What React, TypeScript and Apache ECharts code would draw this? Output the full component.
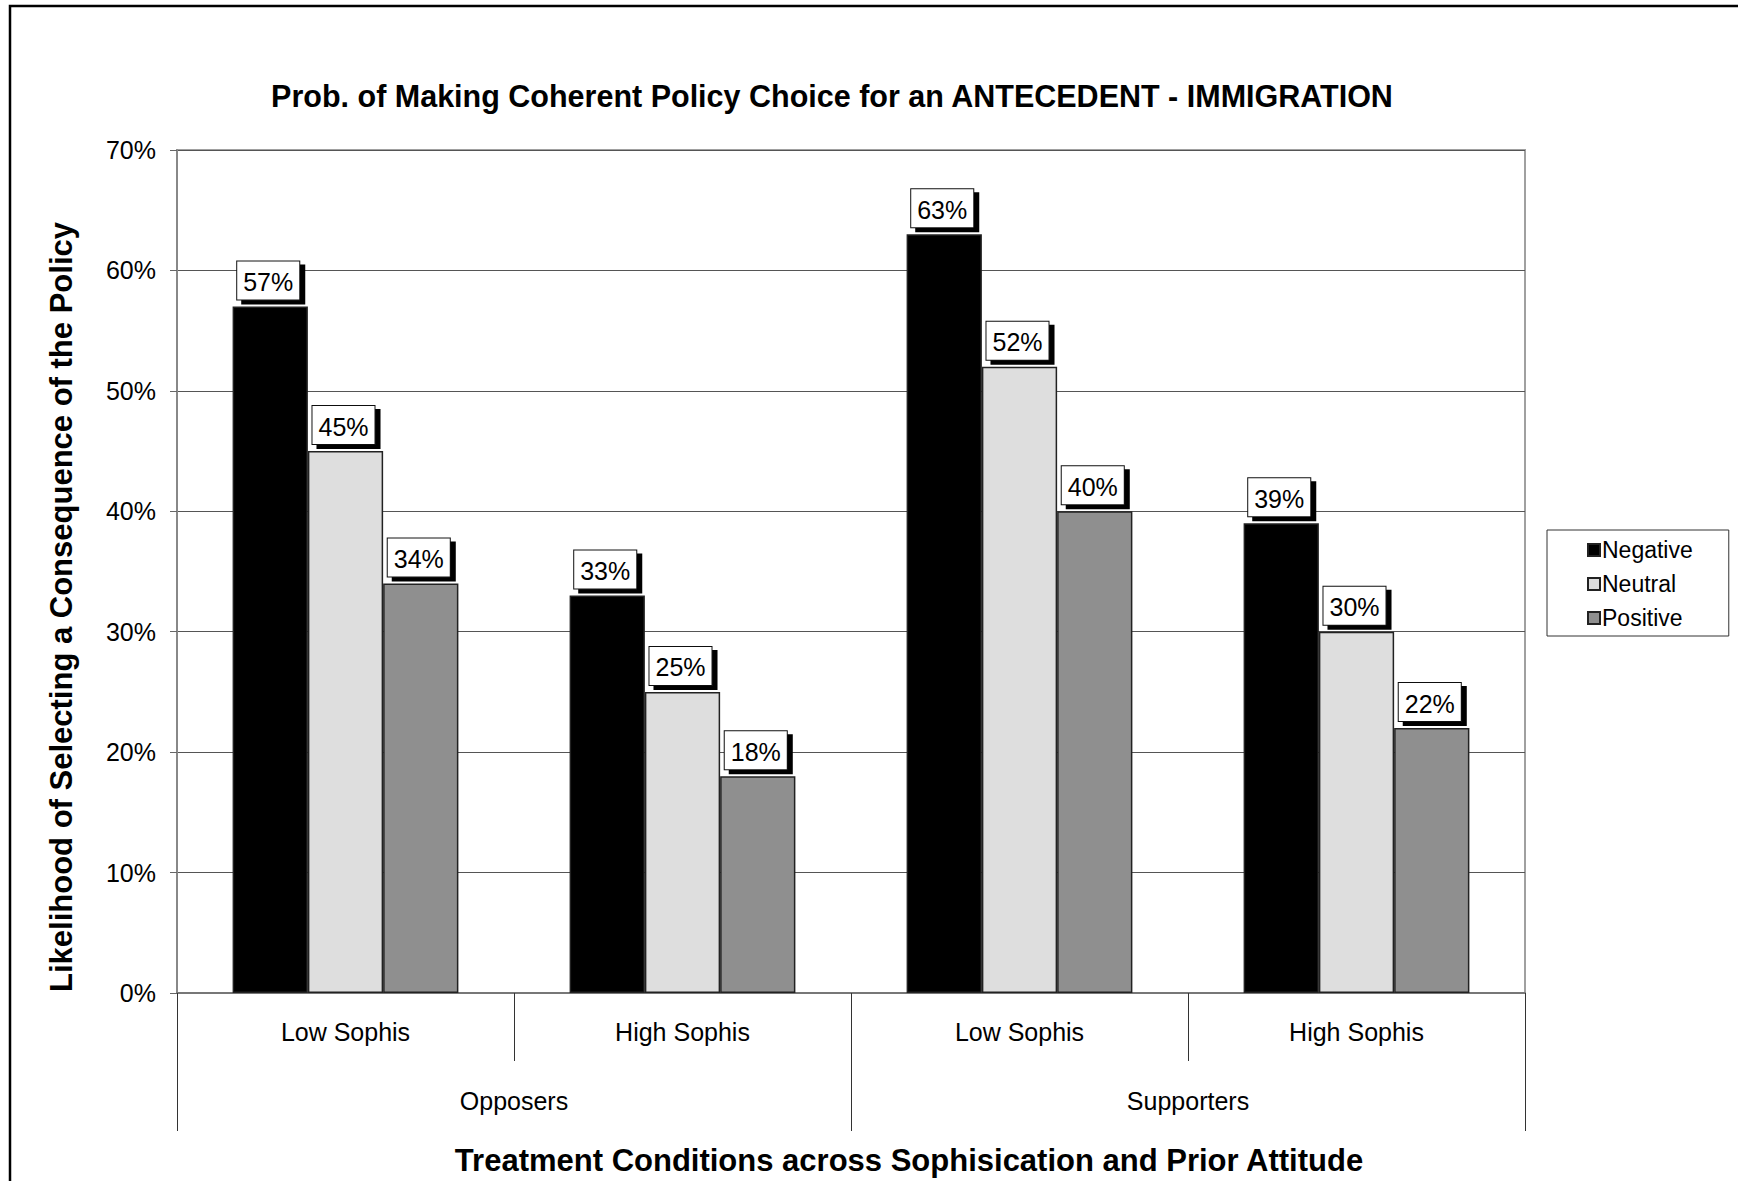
import React, { useEffect, useRef } from "react";
import * as echarts from "echarts";

const categories = ["Low Sophis", "High Sophis", "Low Sophis", "High Sophis"];
const groups = ["Opposers", "Supporters"];
const seriesNames = ["Negative", "Neutral", "Positive"];
const negative = [57, 33, 63, 39];
const neutral = [45, 25, 52, 30];
const positive = [34, 18, 40, 22];
const colors = ["#000000", "#dedede", "#8f8f8f"];

const FONT = "'Liberation Sans', Arial, Helvetica, sans-serif";

export default function App() {
  const ref = useRef<HTMLDivElement>(null);
  useEffect(() => {
    document.body.style.margin = "0";
    const chart = echarts.init(ref.current!, null, { renderer: "svg" });
    const values = [negative, neutral, positive];
    const label = {
      show: true,
      position: "top",
      distance: 7,
      offset: [-2, 0],
      formatter: "{c}%",
      color: "#000",
      fontSize: 25,
      fontFamily: FONT,
      lineHeight: 27,
      backgroundColor: "#fff",
      borderColor: "#111",
      borderWidth: 1,
      padding: [7, 6, 4, 6],
      shadowColor: "#000",
      shadowOffsetX: 5,
      shadowOffsetY: 4,
      shadowBlur: 0,
    };
    chart.setOption({
      animation: false,
      backgroundColor: "#fff",
      textStyle: { fontFamily: FONT },
      grid: {
        left: 177,
        right: 213,
        top: 150,
        bottom: 188,
        show: true,
        borderColor: "#a0a0a0",
        borderWidth: 2,
      },
      legend: {
        orient: "vertical",
        left: 1547,
        top: 530,
        padding: [8, 36, 6, 40],
        itemGap: 10,
        itemWidth: 12,
        itemHeight: 12,
        icon: "rect",
        borderColor: "#333",
        borderWidth: 1,
        textStyle: { fontSize: 23, color: "#000", fontFamily: FONT, lineHeight: 24, padding: [0, 0, 0, -3] },
        data: seriesNames,
      },
      xAxis: [
        {
          type: "category",
          data: categories,
          position: "bottom",
          axisLine: { show: true, lineStyle: { color: "#777", width: 2 } },
          axisTick: { show: true, interval: 0, length: 68, lineStyle: { color: "#333", width: 1 } },
          axisLabel: { interval: 0, margin: 26, fontSize: 25, color: "#000", fontFamily: FONT },
        },
        {
          type: "category",
          data: groups,
          position: "bottom",
          axisLine: { show: false },
          axisTick: { show: true, interval: 0, length: 138, lineStyle: { color: "#333", width: 1 } },
          axisLabel: { interval: 0, margin: 95, fontSize: 25, color: "#000", fontFamily: FONT },
        },
      ],
      yAxis: {
        type: "value",
        min: 0,
        max: 70,
        interval: 10,
        axisLine: { show: true, lineStyle: { color: "#888", width: 2 } },
        axisTick: { show: true, length: 7, lineStyle: { color: "#666" } },
        axisLabel: { formatter: "{value}%", fontSize: 25, color: "#000", margin: 21, fontFamily: FONT },
        splitLine: { show: true, lineStyle: { color: "#555", width: 1.2 } },
      },
      series: seriesNames.map((name, i) => ({
        name,
        type: "bar",
        xAxisIndex: 0,
        data: values[i],
        barGap: "0%",
        barCategoryGap: "33%",
        itemStyle: { color: colors[i], borderColor: "#222", borderWidth: 1.5 },
        label,
      })),
      graphic: [
        {
          type: "rect",
          shape: { x: 10, y: 6, width: 1780, height: 1240 },
          style: { fill: "none", stroke: "#000", lineWidth: 2.5 },
          silent: true,
        },
        {
          type: "text",
          x: 832,
          y: 96,
          style: {
            text: "Prob. of Making Coherent Policy Choice for an ANTECEDENT - IMMIGRATION",
            font: "bold 30.5px " + FONT,
            fill: "#000",
            textAlign: "center",
            textVerticalAlign: "middle",
          },
        },
        {
          type: "text",
          x: 61,
          y: 607,
          rotation: Math.PI / 2,
          style: {
            text: "Likelihood of Selecting a Consequence of the Policy",
            font: "bold 31px " + FONT,
            fill: "#000",
            textAlign: "center",
            textVerticalAlign: "middle",
          },
        },
        {
          type: "text",
          x: 909,
          y: 1160,
          style: {
            text: "Treatment Conditions across Sophisication and Prior Attitude",
            font: "bold 31px " + FONT,
            fill: "#000",
            textAlign: "center",
            textVerticalAlign: "middle",
          },
        },
      ],
    });
    return () => chart.dispose();
  }, []);
  return <div ref={ref} style={{ width: 1738, height: 1181 }} />;
}
